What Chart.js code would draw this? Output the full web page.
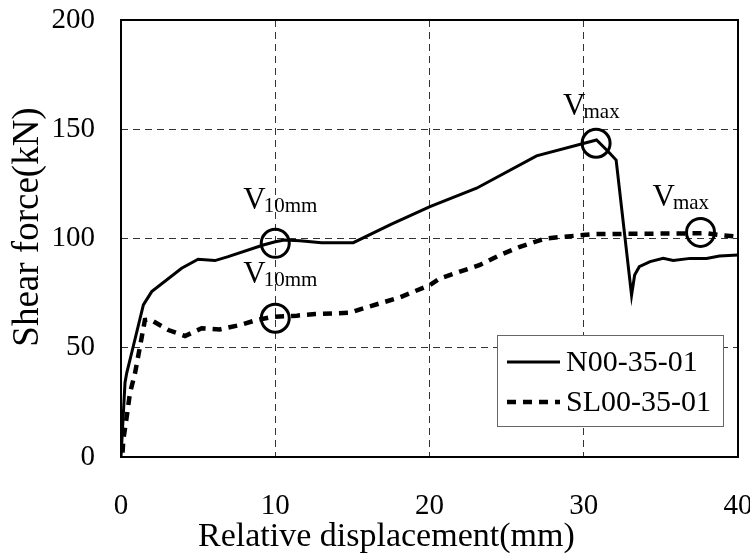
<!DOCTYPE html>
<html>
<head>
<meta charset="utf-8">
<script src="https://cdn.jsdelivr.net/npm/chart.js@4.4.1/dist/chart.umd.min.js"></script>
<style>
  html, body { margin: 0; padding: 0; background: #fff; overflow: hidden; }
  #wrap { width: 750px; height: 554px; }
  canvas { display: block; }
</style>
</head>
<body>
<div id="wrap"><canvas id="c" width="750" height="554"></canvas></div>
<script>
// Shear force vs. relative displacement for two specimens
const xTicks = [0, 10, 20, 30, 40];
const yTicks = [0, 50, 100, 150, 200];

const seriesNames = ['N00-35-01', 'SL00-35-01'];
const xAxisTitle = 'Relative displacement(mm)';
const yAxisTitle = 'Shear force(kN)';

// N00-35-01 (solid)
const dispN  = [0, 0.26, 0.37, 0.69, 1.45, 1.99, 3.93, 5.0, 6.09, 6.95, 9.22, 10.0, 10.6, 11.6, 13.0, 15.06, 17.5, 20.03, 23.05, 26.94, 30.83, 31.6, 32.1, 33.1, 33.3, 33.6, 34.3, 35.15, 35.8, 36.9, 37.96, 38.8, 40];
const shearN = [0, 34, 38.4, 47.6, 69.6, 75.7, 86.4, 90.5, 89.9, 91.7, 97, 98.5, 99.3, 99, 98.1, 98.1, 106.5, 114.6, 123, 137.8, 145.1, 139.7, 135.9, 74.1, 83.3, 87.1, 89.4, 90.9, 89.9, 90.9, 90.9, 92, 92.4];

// SL00-35-01 (dashed)
const dispS  = [0.1, 0.15, 0.37, 0.58, 0.91, 1.23, 1.55, 1.88, 3.07, 4.15, 5.23, 6.4, 7.7, 8.8, 9.87, 11.4, 12.6, 14.84, 15.5, 18.1, 20.03, 20.7, 23.27, 24.56, 25.86, 27.5, 29.96, 30.6, 37.96, 38.8, 40];
const shearS = [2, 7.8, 18.4, 29.2, 38.4, 50.5, 62.7, 63, 58.1, 55.4, 58.9, 58.4, 60.4, 62.7, 64.2, 64.7, 65.4, 66, 67.6, 73.1, 78.7, 81.8, 87.9, 92.4, 96.2, 100, 101.6, 102, 102.4, 101.6, 100.8];

// Marked points: V10mm and Vmax for each specimen
const markX   = [10, 10, 30.8, 37.57];
const markY   = [97.8, 63.5, 143.6, 102.8];
const markSub = ['10mm', '10mm', 'max', 'max'];

const SERIF = "'Liberation Serif', 'Times New Roman', serif";

function toPoints(xs, ys) {
  return xs.map((x, i) => ({ x: x, y: ys[i] }));
}

// label offsets (px) from the circle centre to the start/baseline of "V"
const markLabelOffset = [[-32, -34], [-32, -35], [-33, -28], [-48, -26]];

const framePlugin = {
  id: 'frame',
  afterDatasetsDraw(chart) {
    const { ctx, scales } = chart;
    const xs = scales.x, ys = scales.y;
    const L = xs.getPixelForValue(xTicks[0]);
    const R = xs.getPixelForValue(xTicks[xTicks.length - 1]);
    const T = ys.getPixelForValue(yTicks[yTicks.length - 1]);
    const B = ys.getPixelForValue(yTicks[0]);
    ctx.save();

    // circles and labels
    ctx.strokeStyle = '#000';
    ctx.lineWidth = 3;
    markX.forEach((mx, i) => {
      const px = xs.getPixelForValue(mx);
      const py = ys.getPixelForValue(markY[i]);
      ctx.beginPath();
      ctx.arc(px, py, 14, 0, Math.PI * 2);
      ctx.stroke();
      const lx = px + markLabelOffset[i][0];
      const ly = py + markLabelOffset[i][1];
      ctx.fillStyle = '#000';
      ctx.textBaseline = 'alphabetic';
      ctx.textAlign = 'left';
      ctx.font = '31px ' + SERIF;
      ctx.fillText('V', lx, ly);
      const vw = ctx.measureText('V').width;
      ctx.font = '21px ' + SERIF;
      ctx.fillText(markSub[i], lx + vw - 2, ly + 3);
    });

    // plot frame
    ctx.lineWidth = 2;
    ctx.strokeStyle = '#000';
    ctx.strokeRect(Math.round(L), Math.round(T), Math.round(R - L), Math.round(B - T));

    // legend box
    const bx = 497, by = 335, bw = 226, bh = 91;
    ctx.fillStyle = '#fff';
    ctx.fillRect(bx, by, bw, bh);
    ctx.lineWidth = 1;
    ctx.strokeStyle = '#666';
    ctx.strokeRect(bx + 0.5, by + 0.5, bw, bh);
    chart.data.datasets.forEach((ds, i) => {
      const cy = by + 27 + i * 40;
      ctx.strokeStyle = ds.borderColor;
      ctx.lineWidth = ds.borderWidth;
      ctx.setLineDash(ds.borderDash || []);
      ctx.beginPath();
      ctx.moveTo(bx + 10, cy);
      ctx.lineTo(bx + 63, cy);
      ctx.stroke();
      ctx.setLineDash([]);
      ctx.fillStyle = '#000';
      ctx.font = '30px ' + SERIF;
      ctx.textBaseline = 'middle';
      ctx.textAlign = 'left';
      ctx.fillText(ds.label, bx + 69, cy + 1);
    });

    // axis titles
    ctx.fillStyle = '#000';
    ctx.textBaseline = 'alphabetic';
    ctx.textAlign = 'left';
    ctx.font = '34px ' + SERIF;
    ctx.fillText(xAxisTitle, 198, 546);

    ctx.translate(38, 227);
    ctx.rotate(-Math.PI / 2);
    ctx.textAlign = 'center';
    ctx.font = '37px ' + SERIF;
    ctx.fillText(yAxisTitle, 0, 0);
    ctx.restore();
  }
};

const gridColor = (ctx, edges) => {
  const v = ctx.tick ? ctx.tick.value : null;
  return edges.includes(v) ? 'rgba(0,0,0,0)' : '#333';
};

new Chart(document.getElementById('c'), {
  type: 'line',
  data: {
    datasets: [
      {
        label: seriesNames[0],
        data: toPoints(dispN, shearN),
        borderColor: '#000',
        borderWidth: 3,
        pointRadius: 0,
        tension: 0,
        fill: false
      },
      {
        label: seriesNames[1],
        data: toPoints(dispS, shearS),
        borderColor: '#000',
        borderWidth: 4.5,
        borderDash: [9, 7],
        pointRadius: 0,
        tension: 0,
        fill: false
      }
    ]
  },
  options: {
    responsive: false,
    animation: false,
    devicePixelRatio: 1,
    layout: { padding: { top: 20, right: 12, left: 0, bottom: 0 } },
    plugins: {
      legend: { display: false },
      tooltip: { enabled: false }
    },
    scales: {
      x: {
        type: 'linear',
        min: xTicks[0],
        max: xTicks[xTicks.length - 1],
        afterBuildTicks(scale) { scale.ticks = xTicks.map(v => ({ value: v })); },
        afterFit(scale) { scale.height = 97; scale.paddingLeft = 0; scale.paddingRight = 0; },
        grid: {
          color: (c) => gridColor(c, [xTicks[0], xTicks[xTicks.length - 1]]),
          lineWidth: 1,
          drawTicks: false
        },
        border: { display: false, dash: [7, 5] },
        ticks: {
          padding: 32,
          maxRotation: 0,
          color: '#000',
          font: { family: SERIF, size: 29 }
        },
        title: { display: false, text: xAxisTitle }
      },
      y: {
        type: 'linear',
        min: yTicks[0],
        max: yTicks[yTicks.length - 1],
        afterBuildTicks(scale) { scale.ticks = yTicks.map(v => ({ value: v })); },
        afterFit(scale) { scale.width = 121; scale.paddingTop = 0; scale.paddingBottom = 0; },
        grid: {
          color: (c) => gridColor(c, [yTicks[0], yTicks[yTicks.length - 1]]),
          lineWidth: 1,
          drawTicks: false
        },
        border: { display: false, dash: [7, 5] },
        ticks: {
          padding: 26,
          color: '#000',
          font: { family: SERIF, size: 29 }
        },
        title: { display: false, text: yAxisTitle }
      }
    }
  },
  plugins: [framePlugin]
});
</script>
</body>
</html>
